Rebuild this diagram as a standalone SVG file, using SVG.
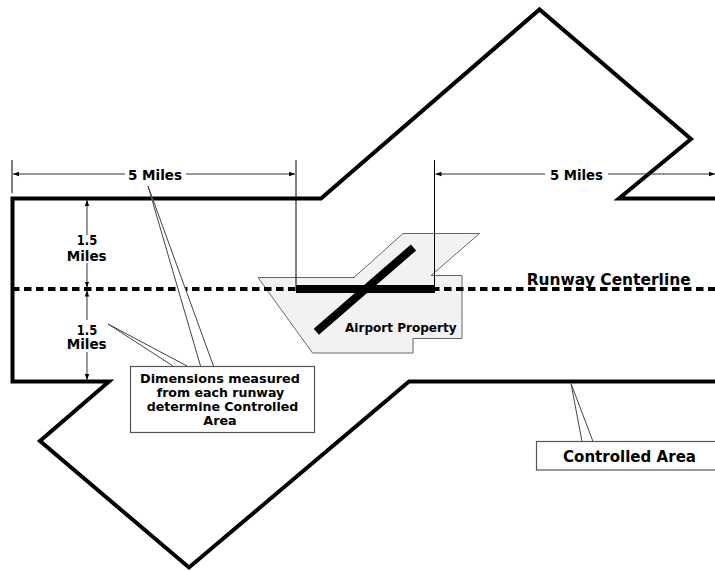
<svg xmlns="http://www.w3.org/2000/svg" width="715" height="571" viewBox="0 0 715 571">
  <style>
    .lbl { font-family: "DejaVu Sans", "Liberation Sans", sans-serif; font-weight: bold; fill: #000; text-anchor: middle; }
    .thin { stroke: #333; stroke-width: 1; fill: none; }
    .ext { stroke: #000; stroke-width: 1; fill: none; }
    .wedge { stroke: #444; stroke-width: 1; fill: #fff; stroke-linejoin: miter; }
    .box { fill: #fff; stroke: #555; stroke-width: 1.2; }
  </style>
  <defs>
    <marker id="arr" viewBox="0 0 6 6" refX="6" refY="3" markerWidth="6" markerHeight="6" markerUnits="userSpaceOnUse" orient="auto">
      <path d="M0,0.8 L6,3 L0,5.2 Z" fill="#000"/>
    </marker>
  </defs>
  <rect x="0" y="0" width="715" height="571" fill="#fff"/>

  <g id="controlled-area">
    <path d="M716,198.5 L619,198.5 L691,139 L539.5,9.5 L321,198.5 L12.5,198.5 L12.5,381.5 L109,381.5 L40,441 L189,567.5 L409,381.5 L716,381.5" fill="none" stroke="#000" stroke-width="4" stroke-linejoin="miter" stroke-miterlimit="10"/>
  </g>

  <g id="airport-property">
    <path d="M258,277.5 L354,277.5 L403,233.5 L479.5,233.5 L431,275.5 L462,275.5 L462,338.5 L413,338.5 L413,353 L312.5,353 Z" fill="#f2f2f2" stroke="#666" stroke-width="1"/>
  </g>

  <g id="centerline">
    <line x1="12" y1="289" x2="715" y2="289" stroke="#000" stroke-width="4" stroke-dasharray="7.5,4.5"/>
  </g>

  <g id="runways">
    <line x1="296" y1="289" x2="435" y2="289" stroke="#000" stroke-width="8"/>
    <line x1="316.3" y1="331.7" x2="413.5" y2="247.5" stroke="#000" stroke-width="8"/>
  </g>

  <g id="dimensions">
    <line class="ext" x1="12" y1="160" x2="12" y2="193"/>
    <line class="ext" x1="296" y1="160" x2="296" y2="287"/>
    <line class="ext" x1="434.5" y1="160" x2="434.5" y2="287"/>
    <line class="thin" x1="125" y1="174" x2="13" y2="174" marker-end="url(#arr)"/>
    <line class="thin" x1="186" y1="174" x2="295" y2="174" marker-end="url(#arr)"/>
    <line class="thin" x1="545" y1="174" x2="435.5" y2="174" marker-end="url(#arr)"/>
    <line class="thin" x1="608" y1="174" x2="715" y2="174" marker-end="url(#arr)"/>
    <line class="thin" x1="87" y1="235" x2="87" y2="200" marker-end="url(#arr)"/>
    <line class="thin" x1="87" y1="263" x2="87" y2="287.5" marker-end="url(#arr)"/>
    <line class="thin" x1="87" y1="320" x2="87" y2="290.5" marker-end="url(#arr)"/>
    <line class="thin" x1="87" y1="352" x2="87" y2="380" marker-end="url(#arr)"/>
  </g>

  <g id="labels">
    <text class="lbl" x="155" y="179.5" font-size="13.5" textLength="54" lengthAdjust="spacingAndGlyphs">5 Miles</text>
    <text class="lbl" x="576.5" y="179.5" font-size="13.5" textLength="53" lengthAdjust="spacingAndGlyphs">5 Miles</text>
    <text class="lbl" x="87" y="245" font-size="13.5" textLength="20.5" lengthAdjust="spacingAndGlyphs">1.5</text>
    <text class="lbl" x="86.7" y="261" font-size="13.5" textLength="40" lengthAdjust="spacingAndGlyphs">Miles</text>
    <text class="lbl" x="87" y="334.5" font-size="13.5" textLength="20.5" lengthAdjust="spacingAndGlyphs">1.5</text>
    <text class="lbl" x="86.7" y="349" font-size="13.5" textLength="40" lengthAdjust="spacingAndGlyphs">Miles</text>
    <text class="lbl" x="608.7" y="285" font-size="15.5" textLength="164" lengthAdjust="spacingAndGlyphs">Runway Centerline</text>
    <text class="lbl" x="400.8" y="331.5" font-size="12.8" textLength="111.5" lengthAdjust="spacingAndGlyphs">Airport Property</text>
  </g>

  <g id="connectors">
    <path class="wedge" d="M200.5,366 L148,186 L213.5,366"/>
    <path class="wedge" d="M173,366 L108,324 L187,366"/>
    <path class="wedge" d="M582,441.5 L571,383.5 L593,441.5"/>
  </g>

  <g id="note-dimensions">
    <rect class="box" x="130.5" y="366.5" width="184" height="66"/>
    <text class="lbl" x="220" y="383.3" font-size="12.8" textLength="160" lengthAdjust="spacingAndGlyphs">Dimensions measured</text>
    <text class="lbl" x="220.5" y="397" font-size="12.8" textLength="127.6" lengthAdjust="spacingAndGlyphs">from each runway</text>
    <text class="lbl" x="222.5" y="411" font-size="12.8" textLength="151.6" lengthAdjust="spacingAndGlyphs">determine Controlled</text>
    <text class="lbl" x="220" y="425" font-size="12.8" textLength="33.4" lengthAdjust="spacingAndGlyphs">Area</text>
  </g>

  <g id="note-controlled-area">
    <rect class="box" x="536.5" y="441.5" width="200" height="28.5"/>
    <text class="lbl" x="629.5" y="461.5" font-size="16" textLength="133" lengthAdjust="spacingAndGlyphs">Controlled Area</text>
  </g>
</svg>
